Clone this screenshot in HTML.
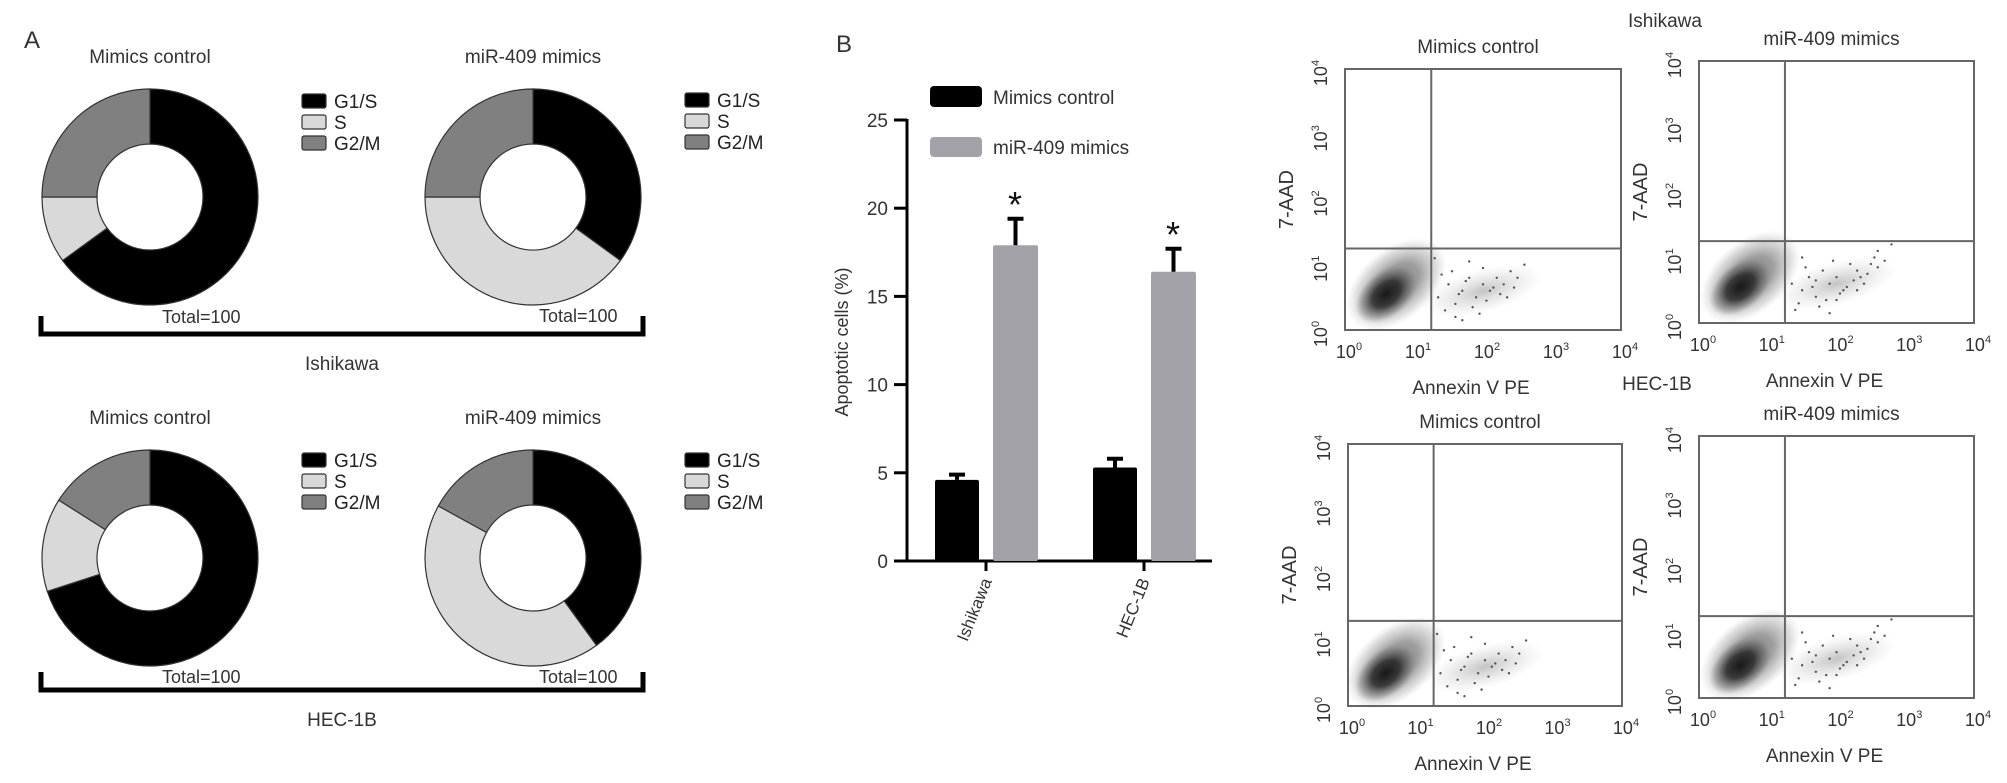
<!DOCTYPE html>
<html><head><meta charset="utf-8"><style>
html,body{margin:0;padding:0;background:#fff;}
svg{display:block;font-family:"Liberation Sans",Arial,sans-serif;}
</style></head><body>
<svg id="fig" width="2007" height="783" viewBox="0 0 2007 783" xmlns="http://www.w3.org/2000/svg">
<defs>
<radialGradient id="dense" cx="50%" cy="50%" r="50%">
<stop offset="0" stop-color="#111" stop-opacity="0.95"/>
<stop offset="0.45" stop-color="#222" stop-opacity="0.8"/>
<stop offset="0.8" stop-color="#555" stop-opacity="0.35"/>
<stop offset="1" stop-color="#888" stop-opacity="0"/>
</radialGradient>
<radialGradient id="tailg" cx="50%" cy="50%" r="50%">
<stop offset="0" stop-color="#888" stop-opacity="0.5"/>
<stop offset="1" stop-color="#bbb" stop-opacity="0"/>
</radialGradient>
</defs>
<text x="24" y="48" font-size="24" fill="#333">A</text>
<text x="836" y="52" font-size="24" fill="#333">B</text>
<g id="panelA"></g>
<g id="panelB"></g>
<g id="panelC"></g>
</svg>
<script>
const NS='http://www.w3.org/2000/svg';
function mk(tag,attrs,parent,txt){const e=document.createElementNS(NS,tag);for(const k in attrs)e.setAttribute(k,attrs[k]);if(txt!==undefined)e.textContent=txt;parent.appendChild(e);return e;}

/* ---------- Panel A data ---------- */
const phaseLabels=['G1/S','S','G2/M'];
const phaseColors=['#000000','#d9d9d9','#808080'];
const ishCtrl=[65,10,25];
const ishMir=[35,40,25];
const hecCtrl=[70,14,16];
const hecMir=[40,43,17];

const A=document.getElementById('panelA');
function donut(cx,cy,vals,title,legX,legY,totX,totY){
  const g=mk('g',{},A);
  
  
  const t=mk('text',{x:cx,y:cy-134,'font-size':19,'text-anchor':'middle',fill:'#333'},g,title);
  
  
  const R=108,r=53,tot=vals.reduce((a,b)=>a+b,0);let acc=0;
  vals.forEach((v,i)=>{
    const a0=acc/tot*2*Math.PI,a1=(acc+v)/tot*2*Math.PI;acc+=v;
    const p=(a,rad)=>[cx+rad*Math.sin(a),cy-rad*Math.cos(a)];
    const [x0,y0]=p(a0,R),[x1,y1]=p(a1,R),[x2,y2]=p(a1,r),[x3,y3]=p(a0,r);
    const lg=(a1-a0)>Math.PI?1:0;
    const s=mk('path',{d:`M${x0},${y0}A${R},${R} 0 ${lg} 1 ${x1},${y1}L${x2},${y2}A${r},${r} 0 ${lg} 0 ${x3},${y3}Z`,fill:phaseColors[i],stroke:'#333','stroke-width':1.2},g);
    
    
  });
  phaseLabels.forEach((lab,i)=>{
    const yy=legY+i*21;
    const sq=mk('rect',{x:legX,y:yy-7,width:24,height:14,rx:2,fill:phaseColors[i],stroke:'#333','stroke-width':1.2},g);
    
    
    const lt=mk('text',{x:legX+32,y:yy+7,'font-size':19,fill:'#222'},g,lab);
    
    
  });
  const tt=mk('text',{x:totX,y:totY,'font-size':18,fill:'#333'},g,'Total=100');
  
  
}
donut(150,197,ishCtrl,'Mimics control',302,101,162,323);
donut(533,197,ishMir,'miR-409 mimics',685,100,539,322);
donut(150,558,hecCtrl,'Mimics control',302,460,162,683);
donut(533,558,hecMir,'miR-409 mimics',685,460,539,683);
function bracket(y,label){
  const p=mk('path',{d:`M41,${y-18}V${y}H643V${y-18}`,fill:'none',stroke:'#000','stroke-width':5},A);
  
  
  const t=mk('text',{x:342,y:y+36,'font-size':19,'text-anchor':'middle',fill:'#333'},A,label);
  
  
}
bracket(334,'Ishikawa');
bracket(690,'HEC-1B');

/* ---------- Panel B data ---------- */
const barCats=['Ishikawa','HEC-1B'];
const ctrlVals=[4.6,5.3];
const ctrlErr=[0.3,0.5];
const mirVals=[17.9,16.4];
const mirErr=[1.5,1.3];
const yTicks=[0,5,10,15,20,25];

const B=document.getElementById('panelB');
const y0=561,yMax=25,yTop=120;
const ys=v=>y0-(v/yMax)*(y0-yTop);
const xAxisL=907,xAxisR=1212;
const xc=i=>986+i*158;
const ax=mk('path',{d:`M${xAxisL},${yTop-1}V${y0}H${xAxisR}`,fill:'none',stroke:'#000','stroke-width':3},B);


yTicks.forEach(v=>{
  const l=mk('line',{x1:894,x2:xAxisL,y1:ys(v),y2:ys(v),stroke:'#000','stroke-width':3},B);
  
  
  const t=mk('text',{x:888,y:ys(v)+7,'font-size':19,'text-anchor':'end',fill:'#333'},B,String(v));
  
  
});
const yt=mk('text',{x:0,y:0,'font-size':18,'text-anchor':'middle',fill:'#333',transform:'translate(848,342) rotate(-90)'},B,'Apoptotic cells (%)');


function bar(x,w,v,e,col,name){
  const r=mk('rect',{x:x,y:ys(v),width:w,height:y0-ys(v),fill:col,rx:2},B);
  
  
  const cx=x+w/2;
  const eb=mk('path',{d:`M${cx},${ys(v)}V${ys(v+e)}M${cx-8},${ys(v+e)}H${cx+8}`,stroke:'#000','stroke-width':4,fill:'none'},B);
  
  
}
barCats.forEach((c,i)=>{
  bar(xc(i)-51,44,ctrlVals[i],ctrlErr[i],'#000','bar-control-'+c.toLowerCase());
  bar(xc(i)+7,45,mirVals[i],mirErr[i],'#a2a2a8','bar-mir409-'+c.toLowerCase());
  const s=mk('text',{x:xc(i)+29,y:ys(mirVals[i]+mirErr[i])-2,'font-size':36,'text-anchor':'middle',fill:'#111'},B,'*');
  
  
  const tk=mk('line',{x1:xc(i),x2:xc(i),y1:y0,y2:y0+10,stroke:'#000','stroke-width':3},B);
  
  
  const lt=mk('text',{x:0,y:0,'font-size':17,'text-anchor':'end',fill:'#333',transform:`translate(${xc(i)+6},${y0+20}) rotate(-68)`},B,c);
  
  
});
const lg1=mk('rect',{x:930,y:86,width:52,height:21,rx:4,fill:'#000'},B);


const lg1t=mk('text',{x:993,y:104,'font-size':19,fill:'#333'},B,'Mimics control');


const lg2=mk('rect',{x:930,y:137,width:52,height:20,rx:4,fill:'#a2a2a8'},B);


const lg2t=mk('text',{x:993,y:154,'font-size':19,fill:'#333'},B,'miR-409 mimics');



/* ---------- Flow cytometry data (log10 units) ---------- */
const decadeTicks=[0,1,2,3,4];
const gateX=[1.25,1.25,1.25,1.25];
const gateY=[1.25,1.25,1.3,1.25];
const clusterX=[0.6,0.6,0.55,0.6];
const clusterY=[0.55,0.55,0.5,0.5];
const tailCtrlX=[1.35,1.5,1.6,1.7,1.8,1.9,2.0,2.1,2.2,2.3,2.4,1.45,1.65,1.85,2.05,2.25,2.6,1.55,1.75,1.95,2.15,2.35,1.4,1.6,2.0,2.45,1.3,1.8,2.5,1.7];
const tailCtrlY=[0.5,0.7,0.4,0.6,0.8,0.5,0.7,0.6,0.8,0.7,0.9,0.3,0.55,0.35,0.45,0.55,1.0,0.9,0.75,0.25,0.65,0.5,0.85,0.2,0.95,0.65,1.1,1.05,0.8,0.15];
const tailMirX=[1.35,1.5,1.6,1.7,1.8,1.9,2.0,2.1,2.2,2.3,2.4,2.5,2.6,2.7,1.45,1.65,1.85,2.05,2.25,2.45,1.55,1.75,1.95,2.15,2.35,2.55,2.8,1.4,1.7,2.0,2.3,2.6,1.5,1.9];
const tailMirY=[0.6,0.5,0.7,0.4,0.8,0.6,0.7,0.5,0.9,0.8,0.6,0.9,1.1,0.95,0.3,0.55,0.35,0.45,0.65,0.75,0.85,0.25,0.95,0.55,0.7,1.0,1.2,0.2,0.65,0.35,0.5,0.85,1.0,0.15];
const plotTitles=['Mimics control','miR-409 mimics','Mimics control','miR-409 mimics'];
const plotBoxes=[[1345,69,1621,330],[1699,61,1974,323],[1348,444,1622,706],[1699,436,1974,698]];

const C=document.getElementById('panelC');
function sup(parent,x,y,exp,rot){
  const t=mk('text',{x:x,y:y,'font-size':18,'text-anchor':'middle',fill:'#333'},parent);
  if(rot)t.setAttribute('transform',`rotate(-90 ${x} ${y})`);
  
  
  mk('tspan',{},t,'10');
  mk('tspan',{'font-size':11,dy:-8},t,String(exp));
  return t;
}
plotBoxes.forEach((b,k)=>{
  const [x0,y0b,x1,y1]=b;
  const g=mk('g',{},C);
  
  
  const sx=v=>x0+v/4*(x1-x0), sy=v=>y1-v/4*(y1-y0b);
  const mir=k%2===1;
  const tx=mir?tailMirX:tailCtrlX, ty=mir?tailMirY:tailCtrlY;
  const tl=mk('ellipse',{cx:sx(2.0),cy:sy(0.6),rx:62,ry:22,fill:'url(#tailg)',transform:`rotate(-15 ${sx(2.0)} ${sy(0.6)})`},g);
  
  
  tx.forEach((v,i)=>{
    const d=mk('circle',{cx:sx(v),cy:sy(ty[i]),r:1.2,fill:'#555'},g);
    
    
  });
  const cx=sx(clusterX[k]),cy=sy(clusterY[k]);
  const halo=mk('ellipse',{cx:cx+10,cy:cy-10,rx:58,ry:36,fill:'url(#dense)',opacity:0.55,transform:`rotate(-40 ${cx+10} ${cy-10})`},g);
  
  
  const core=mk('ellipse',{cx:cx,cy:cy,rx:36,ry:23,fill:'url(#dense)',transform:`rotate(-40 ${cx} ${cy})`},g);
  
  
  const box=mk('rect',{x:x0,y:y0b,width:x1-x0,height:y1-y0b,fill:'none',stroke:'#666','stroke-width':2},g);
  
  
  const q=mk('path',{d:`M${sx(gateX[k])},${y0b}V${y1}M${x0},${sy(gateY[k])}H${x1}`,stroke:'#666','stroke-width':2,fill:'none'},g);
  
  
  decadeTicks.forEach(d=>{
    sup(g,sx(d)+4,y1+28,d,false);
    sup(g,x0-18,sy(d)+4,d,true);
  });
  const tt=mk('text',{x:(x0+x1)/2-5,y:y0b-16,'font-size':19,'text-anchor':'middle',fill:'#333'},g,plotTitles[k]);
  
  
  const xl=mk('text',{x:(x0+x1)/2-12,y:y1+64,'font-size':19,'text-anchor':'middle',fill:'#333'},g,'Annexin V PE');
  
  
  const yx=x0-52,yy=(y0b+y1)/2;
  const yl=mk('text',{x:yx,y:yy,'font-size':20,'text-anchor':'middle',fill:'#333',transform:`rotate(-90 ${yx} ${yy})`},g,'7-AAD');
  
  
});
const ish=mk('text',{x:1665,y:27,'font-size':19,'text-anchor':'middle',fill:'#333'},C,'Ishikawa');


const hec=mk('text',{x:1657,y:390,'font-size':19,'text-anchor':'middle',fill:'#333'},C,'HEC-1B');


</script>
</body></html>
